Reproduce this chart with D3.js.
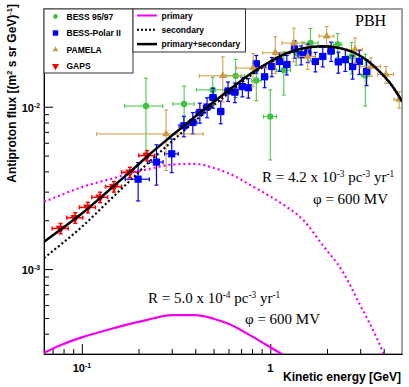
<!DOCTYPE html>
<html>
<head>
<meta charset="UTF-8">
<script src="https://d3js.org/d3.v7.min.js"></script>
<style>
  body { margin: 0; background: #fff; }
  svg { display: block; }
  .sans { font-family: "Liberation Sans", Arial, sans-serif; font-weight: bold; }
  .serif { font-family: "Liberation Serif", "Times New Roman", serif; }
</style>
</head>
<body>
<div id="chart"></div>
<script>
// model curves, energy grid in GeV, flux in (m2 s sr GeV)^-1
const energy      = [0.063, 0.077, 0.1, 0.125, 0.15, 0.18, 0.22, 0.3, 0.4, 0.5, 0.6, 0.8, 1.0, 1.2, 1.5, 1.9, 2.4, 3.0, 3.7, 4.4, 5.0];
const primaryLow  = [3.05e-4, 3.4e-4, 3.8e-4, 4.1e-4, 4.35e-4, 4.6e-4, 4.85e-4, 5.2e-4, 5.2e-4, 4.95e-4, 4.6e-4, 3.85e-4, 3.3e-4, 2.9e-4, 2.4e-4, 1.6e-4, 1.05e-4, 6.9e-5, 4.6e-5, 3.1e-5, 2e-5];
const primaryHigh = [2.6e-3, 2.85e-3, 3.2e-3, 3.45e-3, 3.65e-3, 3.9e-3, 4.1e-3, 4.4e-3, 4.45e-3, 4.2e-3, 3.9e-3, 3.25e-3, 2.8e-3, 2.45e-3, 2.0e-3, 1.4e-3, 9.8e-4, 6.0e-4, 3.7e-4, 2.3e-4, 1.6e-4];
const secondary   = [1.17e-3, 1.41e-3, 1.82e-3, 2.33e-3, 2.86e-3, 3.5e-3, 4.4e-3, 6.1e-3, 8.2e-3, 0.0102, 0.0121, 0.0158, 0.0187, 0.0209, 0.0227, 0.0235, 0.0228, 0.0206, 0.0170, 0.0136, 0.0108];
const total       = [1.475e-3, 1.75e-3, 2.2e-3, 2.74e-3, 3.3e-3, 3.96e-3, 4.89e-3, 6.62e-3, 8.72e-3, 0.0107, 0.0126, 0.0162, 0.0190, 0.0212, 0.0229, 0.0236, 0.0228, 0.0206, 0.0170, 0.0136, 0.0108];

// measurements: [E, flux, dE, dFlux]
const bess9597 = [
  [0.219, 0.0101, 0.05, 4.9e-3], [0.349, 0.0104, 0.045, 3.0e-3], [0.495, 0.0127, 0.09, 2.5e-3],
  [0.655, 0.0155, 0.073, 4.1e-3], [0.843, 0.0145, 0.05, 3.6e-3], [1.0, 8.7e-3, 0.08, 4.0e-3],
  [1.18, 0.0168, 0.1, 5.0e-3], [1.373, 0.0215, 0.1, 3.5e-3], [1.634, 0.0247, 0.16, 5.6e-3],
  [2.279, 0.0242, 0.12, 4.0e-3], [2.702, 0.0204, 0.14, 4.5e-3], [3.193, 0.0156, 0.15, 5.5e-3]
];
const bessPolar = [
  [0.199, 3.58e-3, 0.029, 0.95e-3], [0.249, 4.56e-3, 0.021, 1.27e-3], [0.300, 5.13e-3, 0.025, 1.2e-3],
  [0.348, 7.63e-3, 0.02, 1.1e-3], [0.388, 8.0e-3, 0.02, 1.2e-3], [0.423, 9.22e-3, 0.02, 1.3e-3],
  [0.462, 9.96e-3, 0.02, 1.4e-3], [0.497, 0.0114, 0.02, 1.6e-3], [0.546, 9.35e-3, 0.02, 1.5e-3],
  [0.597, 0.0125, 0.022, 1.7e-3], [0.649, 0.0123, 0.025, 1.7e-3], [0.711, 0.0133, 0.027, 1.8e-3],
  [0.765, 0.0131, 0.03, 1.8e-3], [0.843, 0.0184, 0.032, 2.3e-3], [0.933, 0.0153, 0.035, 2.2e-3],
  [1.02, 0.0177, 0.04, 2.4e-3], [1.12, 0.0190, 0.04, 2.5e-3], [1.224, 0.0182, 0.045, 2.5e-3],
  [1.345, 0.0227, 0.05, 2.8e-3], [1.459, 0.0209, 0.055, 2.8e-3], [1.581, 0.0215, 0.06, 2.8e-3],
  [1.736, 0.0190, 0.065, 2.6e-3], [1.898, 0.0204, 0.07, 2.8e-3], [2.102, 0.0220, 0.08, 3.0e-3],
  [2.298, 0.0189, 0.085, 2.8e-3], [2.502, 0.0195, 0.09, 3.0e-3], [2.735, 0.0177, 0.1, 2.9e-3],
  [2.969, 0.0190, 0.11, 3.2e-3], [3.245, 0.0165, 0.12, 3.0e-3]
];
const pamela = [
  [0.28, 6.8e-3, 0.16, 2.75e-3], [0.56, 0.0155, 0.14, 4.8e-3], [0.81, 0.0173, 0.15, 4.0e-3],
  [1.063, 0.0215, 0.15, 5.5e-3], [1.333, 0.0247, 0.18, 5.8e-3], [1.581, 0.0204, 0.16, 3.4e-3],
  [1.993, 0.0272, 0.18, 4.0e-3], [2.817, 0.0225, 0.26, 4.0e-3], [3.42, 0.0177, 0.42, 2.3e-3],
  [4.11, 0.0158, 0.4, 1.9e-3], [4.83, 0.0111, 0.3, 1.3e-3]
];
const gaps = [
  [0.0771, 1.78e-3, 0.0075, 1.3e-4], [0.0922, 2.07e-3, 0.009, 1.55e-4], [0.1076, 2.40e-3, 0.0105, 1.8e-4],
  [0.125, 2.77e-3, 0.012, 2.05e-4], [0.148, 3.22e-3, 0.0145, 2.4e-4], [0.18, 3.95e-3, 0.0175, 2.9e-4],
  [0.222, 5.0e-3, 0.0215, 3.7e-4]
];

const xMajor = [0.1, 1];
const yMajor = [1e-3, 1e-2];

const width = 409, height = 387;
const margin = { top: 9, right: 7, bottom: 33, left: 44 };

const svg = d3.select("#chart").append("svg")
  .attr("width", width).attr("height", height);

const x = d3.scaleLog().domain([0.063, 5]).range([margin.left, width - margin.right]);
const y = d3.scaleLog().domain([3e-4, 0.04]).range([height - margin.bottom, margin.top]);

svg.append("clipPath").attr("id", "frame")
  .append("rect")
  .attr("x", margin.left).attr("y", margin.top)
  .attr("width", width - margin.left - margin.right)
  .attr("height", height - margin.top - margin.bottom);

// frame
svg.append("rect")
  .attr("x", margin.left).attr("y", margin.top)
  .attr("width", width - margin.left - margin.right)
  .attr("height", height - margin.top - margin.bottom)
  .attr("fill", "none").attr("stroke", "#808080").attr("stroke-width", 1.5);

// axes: major and minor ticks drawn inward
const xMinor = x.ticks().filter(v => !xMajor.some(m => Math.abs(m - v) < 1e-9) && v < 4.99);
const yMinor = y.ticks().filter(v => !yMajor.some(m => Math.abs(m - v) < 1e-12));
const bottomY = height - margin.bottom;

svg.append("g").attr("transform", `translate(0,${bottomY})`)
  .call(d3.axisBottom(x).tickValues(xMajor).tickSizeInner(-10).tickSizeOuter(0).tickFormat(""));
svg.append("g").attr("transform", `translate(0,${bottomY})`)
  .call(d3.axisBottom(x).tickValues(xMinor).tickSizeInner(-5).tickSizeOuter(0).tickFormat(""));
svg.append("g").attr("transform", `translate(${margin.left},0)`)
  .call(d3.axisLeft(y).tickValues(yMajor).tickSizeInner(-9).tickSizeOuter(0).tickFormat(""));
svg.append("g").attr("transform", `translate(${margin.left},0)`)
  .call(d3.axisLeft(y).tickValues(yMinor).tickSizeInner(-5).tickSizeOuter(0).tickFormat(""));
svg.selectAll(".domain").attr("stroke", "#000");

// text with superscripts: parts = [[text, sup], ...]
function richText(g, parts, size) {
  parts.forEach(([t, sup]) => {
    g.append("tspan")
      .attr("font-size", sup ? size * 0.62 : size)
      .attr("baseline-shift", sup ? "55%" : null)
      .text(t);
  });
  return g;
}

const expLabel = e => e === 0 ? [["1", false]] : [["10", false], [String(e), true]];

xMajor.forEach(v => {
  const t = svg.append("text").attr("class", "sans")
    .attr("x", x(v)).attr("y", 372).attr("text-anchor", "middle").attr("font-size", 11);
  richText(t, expLabel(Math.round(Math.log10(v))), 11);
});
yMajor.forEach(v => {
  const t = svg.append("text").attr("class", "sans")
    .attr("x", 40).attr("y", y(v) + 5).attr("text-anchor", "end").attr("font-size", 11);
  richText(t, expLabel(Math.round(Math.log10(v))), 11);
});

svg.append("text").attr("class", "sans")
  .attr("x", 401).attr("y", 381).attr("text-anchor", "end").attr("font-size", 12)
  .text("Kinetic energy [GeV]");

const yTitle = svg.append("text").attr("class", "sans")
  .attr("transform", "translate(16,4) rotate(-90)")
  .attr("text-anchor", "end").attr("font-size", 12);
richText(yTitle, [["Antiproton flux [(m", false], ["2", true], [" s sr GeV)", false], ["-1", true], ["]", false]], 12);

// plot contents
const plot = svg.append("g").attr("clip-path", "url(#frame)");

function drawSet(rows, color, marker, lw) {
  const g = plot.append("g").attr("stroke", color).attr("stroke-width", lw);
  rows.forEach(([e, f, de, df]) => {
    const cx = x(e), cy = y(f);
    const xl = x(Math.max(e - de, 1e-4)), xr = x(e + de);
    const yt = y(f + df), yb = y(Math.max(f - df, 1e-6));
    g.append("line").attr("x1", xl).attr("x2", xr).attr("y1", cy).attr("y2", cy);
    g.append("line").attr("x1", cx).attr("x2", cx).attr("y1", yt).attr("y2", yb);
    [xl, xr].forEach(px => g.append("line").attr("x1", px).attr("x2", px).attr("y1", cy - 2).attr("y2", cy + 2));
    [yt, yb].forEach(py => g.append("line").attr("x1", cx - 2).attr("x2", cx + 2).attr("y1", py).attr("y2", py));
  });
  plot.append("g").selectAll("path").data(rows).enter().append("path")
    .attr("d", marker.d)
    .attr("transform", d => `translate(${x(d[0])},${y(d[1])}) rotate(${marker.rot || 0})`)
    .attr("fill", color);
}

const circleM = { d: d3.symbol(d3.symbolCircle, 32)() };
const squareM = { d: d3.symbol(d3.symbolSquare, 52)() };
const triUpM = { d: d3.symbol(d3.symbolTriangle, 26)() };
const triDownM = { d: d3.symbol(d3.symbolTriangle, 40)(), rot: 180 };

const colors = { bess: "#3ec43e", polar: "#0000ff", pamela: "#cc9a40", gaps: "#ff0000", magenta: "#ee00ee" };

drawSet(bess9597, colors.bess, circleM, 1);
drawSet(bessPolar, colors.polar, squareM, 1.2);
drawSet(pamela, colors.pamela, triUpM, 1);
drawSet(gaps, colors.gaps, triDownM, 1.5);

const line = vals => d3.line()
  .x((d, i) => x(energy[i]))
  .y(d => y(d))
  .curve(d3.curveMonotoneX)(vals);

plot.append("path").attr("d", line(primaryHigh)).attr("fill", "none")
  .attr("stroke", colors.magenta).attr("stroke-width", 2.2).attr("stroke-dasharray", "2,3");
plot.append("path").attr("d", line(primaryLow)).attr("fill", "none")
  .attr("stroke", colors.magenta).attr("stroke-width", 2.2);
plot.append("path").attr("d", line(secondary)).attr("fill", "none")
  .attr("stroke", "#000").attr("stroke-width", 2.2).attr("stroke-dasharray", "2,2.5");
plot.append("path").attr("d", line(total)).attr("fill", "none")
  .attr("stroke", "#000").attr("stroke-width", 2.5);

// annotations
svg.append("text").attr("class", "serif").attr("x", 355).attr("y", 26)
  .attr("font-size", 16).text("PBH");

function annot(xp, yp, parts) {
  const t = svg.append("text").attr("class", "serif").attr("x", xp).attr("y", yp).attr("font-size", 15);
  richText(t, parts, 15);
}
annot(262, 182, [["R = 4.2 x 10", false], ["-3", true], [" pc", false], ["-3", true], [" yr", false], ["-1", true]]);
annot(313, 204, [["φ = 600 MV", false]]);
annot(148, 303, [["R = 5.0 x 10", false], ["-4", true], [" pc", false], ["-3", true], [" yr", false], ["-1", true]]);
annot(245, 324, [["φ = 600 MV", false]]);

// legends
const leg1 = svg.append("g");
leg1.append("rect").attr("x", 44).attr("y", 9).attr("width", 89).attr("height", 64)
  .attr("fill", "#fff").attr("stroke", "#333");
const leg1Items = [
  ["BESS 95/97", colors.bess, circleM],
  ["BESS-Polar II", colors.polar, squareM],
  ["PAMELA", colors.pamela, triUpM],
  ["GAPS", colors.gaps, triDownM]
];
leg1Items.forEach(([label, color, m], i) => {
  const yy = 16.5 + i * 16.5;
  leg1.append("path").attr("d", m.d).attr("fill", color)
    .attr("transform", `translate(55.5,${yy}) rotate(${m.rot || 0}) scale(0.75)`);
  leg1.append("text").attr("class", "sans").attr("x", 66.5).attr("y", yy + 3)
    .attr("font-size", 8.5).text(label);
});

const leg2 = svg.append("g");
leg2.append("rect").attr("x", 133).attr("y", 9).attr("width", 112.5).attr("height", 43)
  .attr("fill", "#fff").attr("stroke", "#333");
const leg2Items = [
  ["primary", colors.magenta, null, 2],
  ["secondary", "#000", "2,2", 2],
  ["primary+secondary", "#000", null, 2.5]
];
leg2Items.forEach(([label, color, dash, w], i) => {
  const yy = 15.5 + i * 14.3;
  leg2.append("line").attr("x1", 137).attr("x2", 157).attr("y1", yy).attr("y2", yy)
    .attr("stroke", color).attr("stroke-width", w).attr("stroke-dasharray", dash);
  leg2.append("text").attr("class", "sans").attr("x", 161.5).attr("y", yy + 3)
    .attr("font-size", 8.5).text(label);
});
</script>
</body>
</html>
